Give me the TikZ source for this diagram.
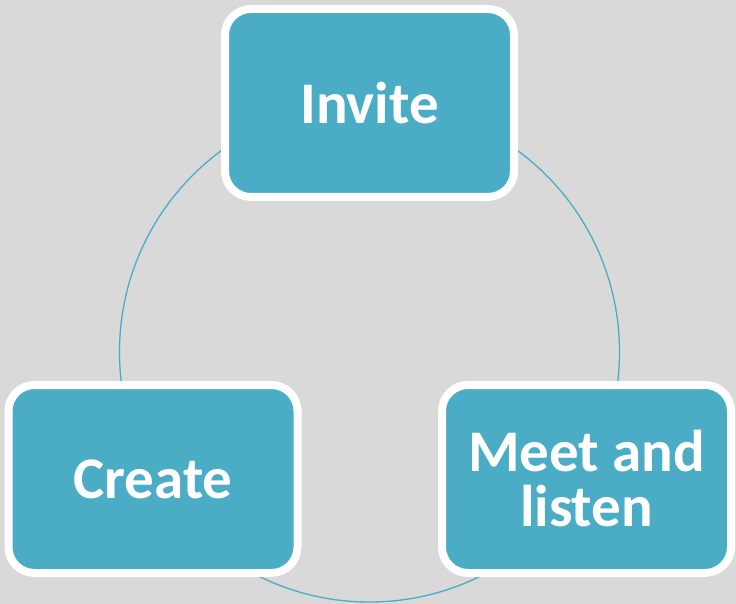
\documentclass[tikz,border=0pt]{standalone}
\usepackage{fontspec}
\setsansfont{Carlito}
\usepackage{tikz}
\usetikzlibrary{positioning, shadows}
\definecolor{cyBack}{RGB}{217, 217, 217}
\definecolor{cyTeal}{RGB}{75, 172, 198}
\tikzset{
    base/.style={
        font=\sffamily\bfseries\fontsize{59}{55}\selectfont,
        align=center
    },
    stage/.style={
        base,
        rectangle,
        rounded corners=26pt,
        draw=white,
        line width=8pt,
        fill=cyTeal,
        text=white,
        minimum width=289pt,
        minimum height=188pt,
        inner sep=0pt,
        drop shadow={opacity=0.35, shadow xshift=1pt, shadow yshift=-4pt}
    },
    ring/.style={
        draw=cyTeal,
        line width=1.3pt
    }
}
\begin{document}
\begin{tikzpicture}[x=1pt, y=-1pt]
    % Background
    \fill[cyBack] (0,0) rectangle (736,604);
    \useasboundingbox (0,0) rectangle (736,604);

    % Cycle ring
    \coordinate (hub) at (369.5,352);
    \draw[ring] (hub) circle[radius=250pt];

    % Stages
    \node[stage] (invite) at (369.5,103) {Invite};
    \node[stage] (create) at (153,479) {Create};
    \node[stage] (meet) at (586.5,479) {Meet and\\ listen};

\end{tikzpicture}
\end{document}
